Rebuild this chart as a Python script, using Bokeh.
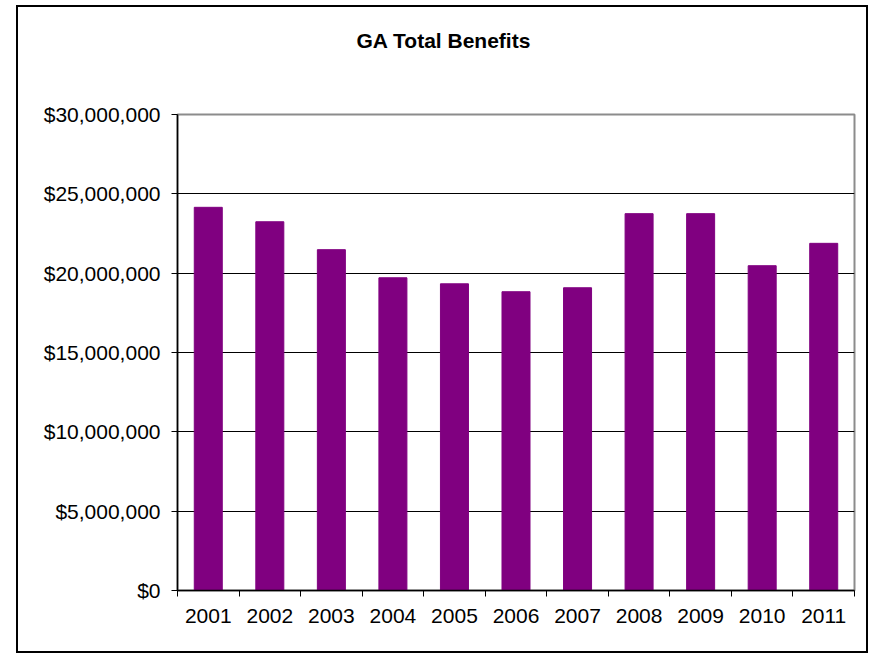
import numpy as np
from bokeh.plotting import figure
from bokeh.models import (Range1d, FixedTicker, NumeralTickFormatter,
                          LinearAxis, Title, ColumnDataSource)
from bokeh.embed import file_html
from bokeh.resources import INLINE

years = ["2001", "2002", "2003", "2004", "2005", "2006", "2007", "2008", "2009", "2010", "2011"]
benefits = [24150000, 23240000, 21480000, 19710000, 19330000, 18830000,
            19080000, 23750000, 23750000, 20470000, 21880000]
y_ticks = [0, 5000000, 10000000, 15000000, 20000000, 25000000, 30000000]
title_text = "GA Total Benefits"

FONT = "Liberation Sans"

n = len(years)
centers = (np.arange(n) + 0.5).tolist()      # category slot centres
edges = np.arange(n + 1).tolist()            # category slot boundaries

src = ColumnDataSource(dict(x=centers, year=years, value=benefits))

p = figure(x_range=Range1d(0, n), y_range=Range1d(0, 30000000),
           width=852, height=648,
           output_backend="svg", toolbar_location=None,
           x_axis_location=None, y_axis_location=None,
           min_border_left=159, min_border_right=16,
           min_border_top=107, min_border_bottom=65)
p.margin = (5, 0, 0, 16)
p.styles = {"border": "2px solid black"}
p.background_fill_color = "white"
p.border_fill_color = "white"
p.outline_line_color = "#8c8c8c"
p.outline_line_width = 2

p.title = Title(text=title_text, align="left", offset=179, standoff=40,
                vertical_align="top",
                text_font=FONT, text_font_size="21px", text_font_style="bold",
                text_color="black")

# invisible spacer between the plot area and the title
spacer = LinearAxis(ticker=FixedTicker(ticks=[]), axis_label=" ")
spacer.axis_line_color = None
spacer.major_tick_line_color = None
spacer.minor_tick_line_color = None
spacer.major_tick_out = 0
spacer.minor_tick_out = 0
spacer.major_tick_in = 0
spacer.minor_tick_in = 0
spacer.major_label_standoff = 0
spacer.major_label_text_font_size = "0px"
spacer.axis_label_text_font_size = "10px"
spacer.axis_label_standoff = 27
p.add_layout(spacer, "above")

p.vbar(x="x", top="value", width=0.455, source=src,
       fill_color="#800080", line_color="#800080", line_width=1)

# y axis
yax = LinearAxis(ticker=FixedTicker(ticks=y_ticks),
                 formatter=NumeralTickFormatter(format="$0,0"))
yax.axis_line_color = "black"
yax.axis_line_width = 1.5
yax.major_tick_line_color = "black"
yax.major_tick_in = 0
yax.major_tick_out = 6
yax.minor_tick_line_color = None
yax.major_label_standoff = 11
yax.major_label_text_font = FONT
yax.major_label_text_font_size = "21px"
yax.major_label_text_color = "black"
p.add_layout(yax, "left")

# x axis: labels at slot centres, ticks at slot boundaries
xax = LinearAxis(ticker=FixedTicker(ticks=centers, minor_ticks=edges))
xax.major_label_overrides = {c: y for c, y in zip(centers, years)}
xax.axis_line_color = "black"
xax.axis_line_width = 1.5
xax.major_tick_line_color = None
xax.major_tick_in = 0
xax.major_tick_out = 6
xax.minor_tick_line_color = "black"
xax.minor_tick_line_width = 1
xax.minor_tick_in = 0
xax.minor_tick_out = 6
xax.major_label_standoff = 12
xax.major_label_text_font = FONT
xax.major_label_text_font_size = "21px"
xax.major_label_text_color = "black"
p.add_layout(xax, "below")

p.xgrid.visible = False
p.ygrid.ticker = FixedTicker(ticks=y_ticks[1:-1])
p.ygrid.grid_line_color = "black"
p.ygrid.grid_line_width = 1.2

open("out.html", "w").write(file_html(p, INLINE))
